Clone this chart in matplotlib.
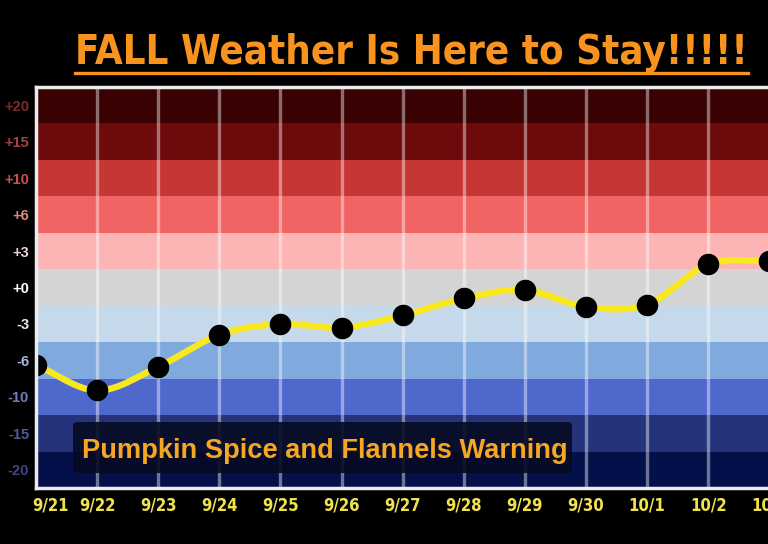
#!/usr/bin/env python3
"""Fall weather anomaly chart: smoothed daily anomaly over colour bands."""

import numpy as np
import matplotlib
matplotlib.use("Agg")
import matplotlib.pyplot as plt
from matplotlib.patches import FancyBboxPatch
from matplotlib.lines import Line2D
from matplotlib.transforms import ScaledTranslation

# band levels (bottom to top) and their colours
levels = [-20, -15, -10, -6, -3, 0, 3, 6, 10, 15, 20]
level_labels = ["-20", "-15", "-10", "-6", "-3", "+0", "+3", "+6", "+10", "+15", "+20"]
band_colors = ["#04104a", "#24337a", "#4f68cc", "#80aade", "#c6d9eb", "#d4d4d4",
               "#fdb4b4", "#f06464", "#c63634", "#6c0a0c", "#3a0103"]
label_colors = ["#3e4790", "#515b98", "#6f7fc0", "#a8bce0", "#e8eef5", "#ffffff",
                "#f2d2d2", "#e08484", "#c85252", "#a84242", "#7a2c2c"]

dates = ["9/21", "9/22", "9/23", "9/24", "9/25", "9/26", "9/27",
         "9/28", "9/29", "9/30", "10/1", "10/2", "10/3"]
anomaly = [-6.5, -9.3, -6.7, -3.9, -3.0, -3.3, -2.3, -0.9, -0.2, -1.6, -1.4, 1.9, 2.2]

TITLE = "FALL Weather Is Here to Stay!!!!!"
BOX_TEXT = "Pumpkin Spice and Flannels Warning"
SANS = ["Liberation Sans", "DejaVu Sans"]

W, H = 768, 544


def catmull_rom(x, y, n=40):
    x = np.asarray(x, float)
    y = np.asarray(y, float)
    yp = np.concatenate([[2 * y[0] - y[1]], y, [2 * y[-1] - y[-2]]])
    xs, ys = [], []
    for i in range(len(y) - 1):
        p0, p1, p2, p3 = yp[i], yp[i + 1], yp[i + 2], yp[i + 3]
        m1 = (p2 - p0) / 2
        m2 = (p3 - p1) / 2
        t = np.linspace(0, 1, n, endpoint=False)
        h00 = 2 * t**3 - 3 * t**2 + 1
        h10 = t**3 - 2 * t**2 + t
        h01 = -2 * t**3 + 3 * t**2
        h11 = t**3 - t**2
        xs.append(x[i] + t * (x[i + 1] - x[i]))
        ys.append(h00 * p1 + h10 * m1 + h01 * p2 + h11 * m2)
    xs.append([x[-1]])
    ys.append([y[-1]])
    return np.concatenate(xs), np.concatenate(ys)


def fit_width(txt, target_px, renderer):
    w = txt.get_window_extent(renderer).width
    txt.set_fontsize(txt.get_fontsize() * target_px / w)


fig = plt.figure(figsize=(W / 100, H / 100), dpi=100, facecolor="black")
# plot frame: left 36px, top 87px, bottom 488px, runs off the right edge
ax = fig.add_axes([36 / W, (H - 488) / H, (790 - 36) / W, (488 - 87) / H])
ax.set_facecolor("black")

x = np.arange(len(dates))
y = np.interp(anomaly, levels, np.arange(len(levels)))

for i, c in enumerate(band_colors):
    ax.axhspan(i - 0.5, i + 0.5, color=c, lw=0, zorder=0)

for xi in x[1:]:
    ax.axvline(xi, color="white", lw=2.4, alpha=0.42, zorder=1)

xs, ys = catmull_rom(x, y)
ax.plot(xs, ys, color="#f9e81e", lw=4.6, solid_capstyle="round", zorder=3)
ax.plot(x, y, "o", color="black", ms=14.5, zorder=4)

ax.set_xlim(0.05, 0.05 + (790 - 36) / 61.36)
ax.set_ylim(-0.5, len(levels) - 0.5)

ax.set_yticks(np.arange(len(levels)))
ax.set_yticklabels(level_labels)
for lab, c in zip(ax.get_yticklabels(), label_colors):
    lab.set_color(c)
    lab.set_fontweight("bold")
    lab.set_fontsize(10.5)
    lab.set_family(SANS)

ax.set_xticks(x)
ax.set_xticklabels(dates)
ax.tick_params(length=0, axis="x", pad=6)
ax.tick_params(length=0, axis="y", pad=5)
for lab in ax.get_xticklabels():
    lab.set_color("#f0e24c")
    lab.set_fontweight("bold")
    lab.set_fontsize(12)
    lab.set_family("DejaVu Sans")
    lab.set_fontstretch("condensed")
first = ax.get_xticklabels()[0]
first.set_ha("left")
first.set_transform(first.get_transform() + ScaledTranslation(-0.04, 0, fig.dpi_scale_trans))

for side in ["left", "top", "bottom"]:
    ax.spines[side].set_color("#ececec")
    ax.spines[side].set_linewidth(2.5)
    ax.spines[side].set_zorder(5)
ax.spines["right"].set_visible(False)

# warning box
bx0, bx1 = (73 - 36) / 754, (572 - 36) / 754
by0, by1 = (488 - 473) / 401, (488 - 422) / 401
box = FancyBboxPatch((bx0, by0), bx1 - bx0, by1 - by0,
                     boxstyle="round,pad=0,rounding_size=0.008",
                     transform=ax.transAxes, facecolor="#070a22",
                     edgecolor="none", alpha=0.9, zorder=6)
ax.add_patch(box)
warn = ax.text((82 - 36) / 754, (488 - 451) / 401, BOX_TEXT, transform=ax.transAxes,
               ha="left", va="center", color="#f5a623", fontweight="bold",
               fontsize=16, family=SANS, zorder=7)

title = fig.text(411 / W, 1 - 53 / H, TITLE, ha="center", va="center",
                 color="#f7931e", fontweight="bold", fontsize=30,
                 family="DejaVu Sans", fontstretch="condensed")
fig.add_artist(Line2D([75 / W, 748 / W], [1 - 73 / H, 1 - 73 / H],
                      color="#f7931e", lw=2.4, transform=fig.transFigure))

renderer = fig.canvas.get_renderer()
fit_width(title, 673, renderer)
fit_width(warn, 484, renderer)

fig.savefig("out.png", dpi=100, facecolor="black")
